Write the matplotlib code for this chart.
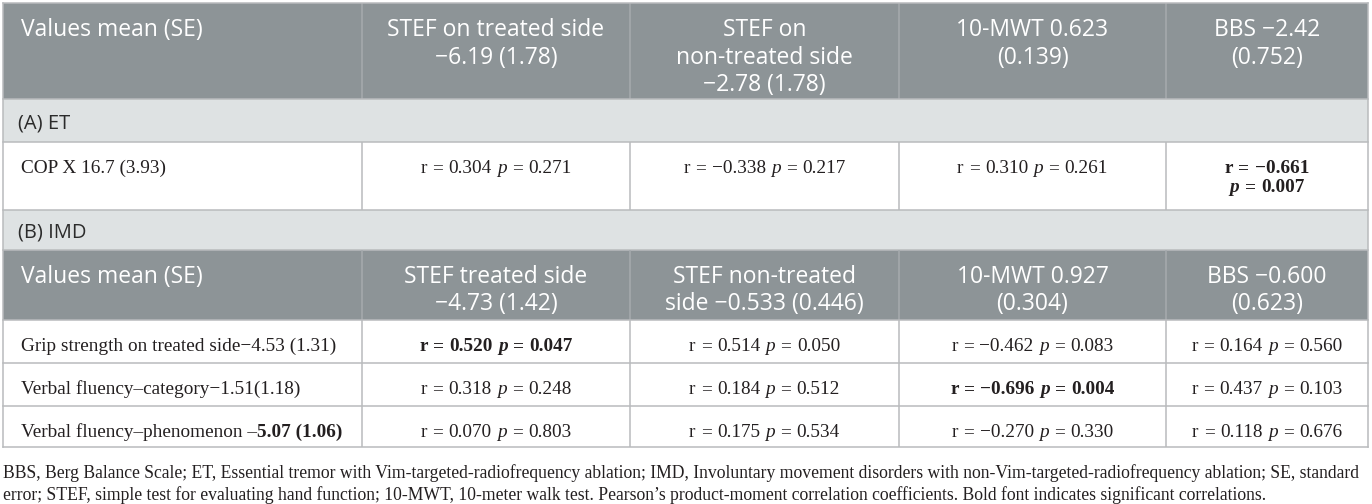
import matplotlib
matplotlib.use("Agg")
import matplotlib.pyplot as plt
from matplotlib.patches import Rectangle

# ---------------- data ----------------
section_titles = ["(A) ET", "(B) IMD"]

header_A = [["Values mean (SE)"],
            ["STEF on treated side", "\u22126.19 (1.78)"],
            ["STEF on", "non-treated side", "\u22122.78 (1.78)"],
            ["10-MWT 0.623", "(0.139)"],
            ["BBS \u22122.42", "(0.752)"]]
header_B = [["Values mean (SE)"],
            ["STEF treated side", "\u22124.73 (1.42)"],
            ["STEF non-treated", "side \u22120.533 (0.446)"],
            ["10-MWT 0.927", "(0.304)"],
            ["BBS \u22120.600", "(0.623)"]]

labels_A = ["COP X 16.7 (3.93)"]
r_A = [[0.304, -0.338, 0.310, -0.661]]
p_A = [[0.271, 0.217, 0.261, 0.007]]
sig_A = [[False, False, False, True]]

labels_B = ["Grip strength on treated side\u22124.53 (1.31)",
            "Verbal fluency\u2013category\u22121.51(1.18)",
            "Verbal fluency\u2013phenomenon \u2013"]
labels_B_bold = ["", "", "5.07 (1.06)"]
r_B = [[0.520, 0.514, -0.462, 0.164],
       [0.318, 0.184, -0.696, 0.437],
       [0.070, 0.175, -0.270, 0.118]]
p_B = [[0.047, 0.050, 0.083, 0.560],
       [0.248, 0.512, 0.004, 0.103],
       [0.803, 0.534, 0.330, 0.676]]
sig_B = [[True, False, False, False],
         [False, False, True, False],
         [False, False, False, False]]

footnote = ["BBS, Berg Balance Scale; ET, Essential tremor with Vim-targeted-radiofrequency ablation; "
            "IMD, Involuntary movement disorders with non-Vim-targeted-radiofrequency ablation; SE, standard",
            "error; STEF, simple test for evaluating hand function; 10-MWT, 10-meter walk test. "
            "Pearson\u2019s product-moment correlation coefficients. Bold font indicates significant correlations."]

# ---------------- layout ----------------
W, H = 1372, 504
col_edges = [3, 362, 630, 899, 1166, 1368]
bands = [(3, 99, "head"), (99, 142, "sec"), (142, 210, "body"),
         (210, 250, "sec"), (250, 320, "head"),
         (320, 363, "body"), (363, 406, "body"), (406, 447, "body")]

HEAD_BG = "#8d9497"
HEAD_LINE = "#a6abae"
SEC_BG = "#dee2e3"
GRID = "#b9bbbd"
TXT = "#231f20"
SANS = ["Open Sans", "DejaVu Sans"]
SERIF = ["Liberation Serif", "DejaVu Serif"]
HEAD_FS = 16.5
SEC_FS = 14.5
BODY_FS = 13.9

fig = plt.figure(figsize=(W / 100, H / 100), dpi=100)
ax = fig.add_axes([0, 0, 1, 1])
ax.set_xlim(0, W)
ax.set_ylim(H, 0)
ax.axis("off")
renderer = fig.canvas.get_renderer()


def measure(s, **kw):
    t = ax.text(0, 0, s, **kw)
    w = t.get_window_extent(renderer).width
    t.remove()
    return w


def draw_runs(runs, x, y, ha="center"):
    """runs: list of (text, kwargs, space_before)"""
    widths = [measure(t, **kw) for t, kw, _ in runs]
    sp = [measure("a a", **kw) - measure("aa", **kw) for _, kw, _ in runs]
    total = 0
    for i, (t, kw, s) in enumerate(runs):
        if s and i > 0:
            total += sp[i] * 1.1
        total += widths[i]
    cx = x - total / 2 if ha == "center" else x
    for i, (t, kw, s) in enumerate(runs):
        if s and i > 0:
            cx += sp[i] * 1.1
        ax.text(cx, y, t, ha="left", va="center_baseline", **kw)
        cx += widths[i]


def fmt(v):
    return f"{v:.3f}".replace("-", "\u2212")


def corr_runs(r, p, bold, part="both"):
    base = dict(family=SERIF, fontsize=BODY_FS, color=TXT,
                weight="bold" if bold else "normal")
    ital = dict(base, style="italic")
    rr = [("r", base, False), ("=", base, True), (fmt(r), base, True)]
    pp = [("p", ital, False), ("=", base, True), (fmt(p), base, True)]
    if part == "r":
        return rr
    if part == "p":
        return pp
    return rr + [(t, k, True if i == 0 else s) for i, (t, k, s) in enumerate(pp)]


# backgrounds
for top, bot, kind in bands:
    if kind == "head":
        ax.add_patch(Rectangle((col_edges[0], top), col_edges[-1] - col_edges[0], bot - top,
                               facecolor=HEAD_BG, edgecolor="none"))
    elif kind == "sec":
        ax.add_patch(Rectangle((col_edges[0], top), col_edges[-1] - col_edges[0], bot - top,
                               facecolor=SEC_BG, edgecolor="none"))

# grid lines
lw = 1.1
for top, bot, kind in bands:
    if kind in ("head", "body"):
        c = HEAD_LINE if kind == "head" else GRID
        for xe in col_edges[1:-1]:
            ax.plot([xe, xe], [top, bot], color=c, lw=lw, solid_capstyle="butt")
    ax.plot([col_edges[0], col_edges[-1]], [bot, bot], color=GRID, lw=lw)
ax.plot([col_edges[0], col_edges[-1]], [3, 3], color=GRID, lw=lw)
ax.plot([col_edges[0], col_edges[0]], [3, 447], color=GRID, lw=lw)
ax.plot([col_edges[-1], col_edges[-1]], [3, 447], color=GRID, lw=lw)

PAD = 18
LINE_H = 27.5


def draw_header(header, top):
    for j, lines in enumerate(header):
        for k, line in enumerate(lines):
            y = top + 24 + k * LINE_H
            if j == 0:
                ax.text(col_edges[0] + PAD, y, line, ha="left", va="center_baseline",
                        family=SANS, fontsize=HEAD_FS, color="white")
            else:
                xc = (col_edges[j] + col_edges[j + 1]) / 2
                ax.text(xc, y, line, ha="center", va="center_baseline",
                        family=SANS, fontsize=HEAD_FS, color="white")


def draw_section(title, top, bot):
    ax.text(col_edges[0] + 15, (top + bot) / 2, title, ha="left", va="center_baseline",
            family=SANS, fontsize=SEC_FS, color="#2b2b2b")


def draw_body(labels, bold_parts, rs, ps, sigs, tops, wrap=()):
    for i, top in enumerate(tops):
        y = top + 24.5
        runs = [(labels[i], dict(family=SERIF, fontsize=BODY_FS, color=TXT), False)]
        if bold_parts and bold_parts[i]:
            runs.append((bold_parts[i], dict(family=SERIF, fontsize=BODY_FS, color=TXT,
                                             weight="bold"), False))
        draw_runs(runs, col_edges[0] + PAD, y, ha="left")
        for j in range(len(rs[i])):
            xc = (col_edges[j + 1] + col_edges[j + 2]) / 2
            if (i, j) in wrap:
                draw_runs(corr_runs(rs[i][j], ps[i][j], sigs[i][j], "r"), xc, y)
                draw_runs(corr_runs(rs[i][j], ps[i][j], sigs[i][j], "p"), xc, y + 19.5)
            else:
                draw_runs(corr_runs(rs[i][j], ps[i][j], sigs[i][j]), xc, y)


draw_header(header_A, 3)
draw_section(section_titles[0], 99, 142)
draw_body(labels_A, None, r_A, p_A, sig_A, [142], wrap={(0, 3)})
draw_section(section_titles[1], 210, 250)
draw_header(header_B, 250)
draw_body(labels_B, labels_B_bold, r_B, p_B, sig_B, [320, 363, 406])

# footnote, fitted to table width
fs = 12.0
w0 = measure(footnote[0], family=SERIF, fontsize=fs)
fs = fs * (1363 - 3) / w0
for k, line in enumerate(footnote):
    ax.text(3, 471 + k * 22.5, line, ha="left", va="center_baseline",
            family=SERIF, fontsize=fs, color=TXT)

fig.savefig("out.png", dpi=100)
